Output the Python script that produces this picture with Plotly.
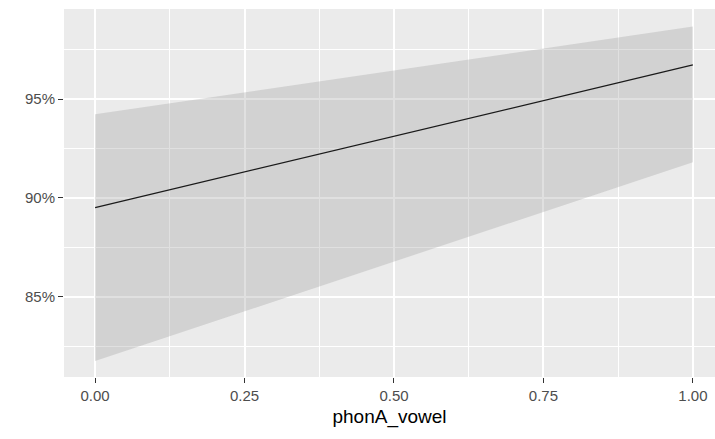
import plotly.graph_objects as go

# Data
x_vals = [0.0, 1.0]
fit = [0.8951, 0.9674]
upper = [0.9424, 0.9868]
lower = [0.8174, 0.9181]

x_ticks = [0.0, 0.25, 0.5, 0.75, 1.0]
x_tick_labels = ["0.00", "0.25", "0.50", "0.75", "1.00"]
y_ticks = [0.85, 0.90, 0.95]
y_tick_labels = ["85%", "90%", "95%"]

fig = go.Figure()
fig.add_trace(go.Scatter(x=x_vals, y=upper, mode="lines", line=dict(width=0),
                         hoverinfo="skip", showlegend=False))
fig.add_trace(go.Scatter(x=x_vals, y=lower, mode="lines", line=dict(width=0),
                         fill="tonexty", fillcolor="rgba(153,153,153,0.3)",
                         hoverinfo="skip", showlegend=False))
fig.add_trace(go.Scatter(x=x_vals, y=fit, mode="lines",
                         line=dict(color="#1a1a1a", width=1.2), showlegend=False))

tickfont = dict(family="Liberation Sans, Arial, sans-serif", size=15, color="#4D4D4D")

fig.update_layout(
    width=715, height=439,
    margin=dict(l=64, r=0, t=9, b=62),
    paper_bgcolor="white",
    plot_bgcolor="#EBEBEB",
    showlegend=False,
    xaxis=dict(
        range=[-0.052, 1.037],
        tickvals=x_ticks, ticktext=x_tick_labels,
        tickfont=tickfont,
        ticks="outside", ticklen=5, tickcolor="#333333", tickwidth=1,
        showgrid=True, gridcolor="white", gridwidth=1.5,
        minor=dict(dtick=0.25, tick0=0.125, showgrid=True, gridcolor="white", gridwidth=0.7),
        zeroline=False, showline=False,
        title=dict(text="phonA_vowel",
                   font=dict(family="Liberation Sans, Arial, sans-serif", size=19, color="black"),
                   standoff=6),
    ),
    yaxis=dict(
        range=[0.8093, 0.9957],
        tickvals=y_ticks, ticktext=y_tick_labels,
        tickfont=tickfont,
        ticks="outside", ticklen=5, tickcolor="#333333", tickwidth=1,
        showgrid=True, gridcolor="white", gridwidth=1.5,
        minor=dict(dtick=0.05, tick0=0.825, showgrid=True, gridcolor="white", gridwidth=0.7),
        zeroline=False, showline=False,
    ),
)

fig.write_html("out.html")
